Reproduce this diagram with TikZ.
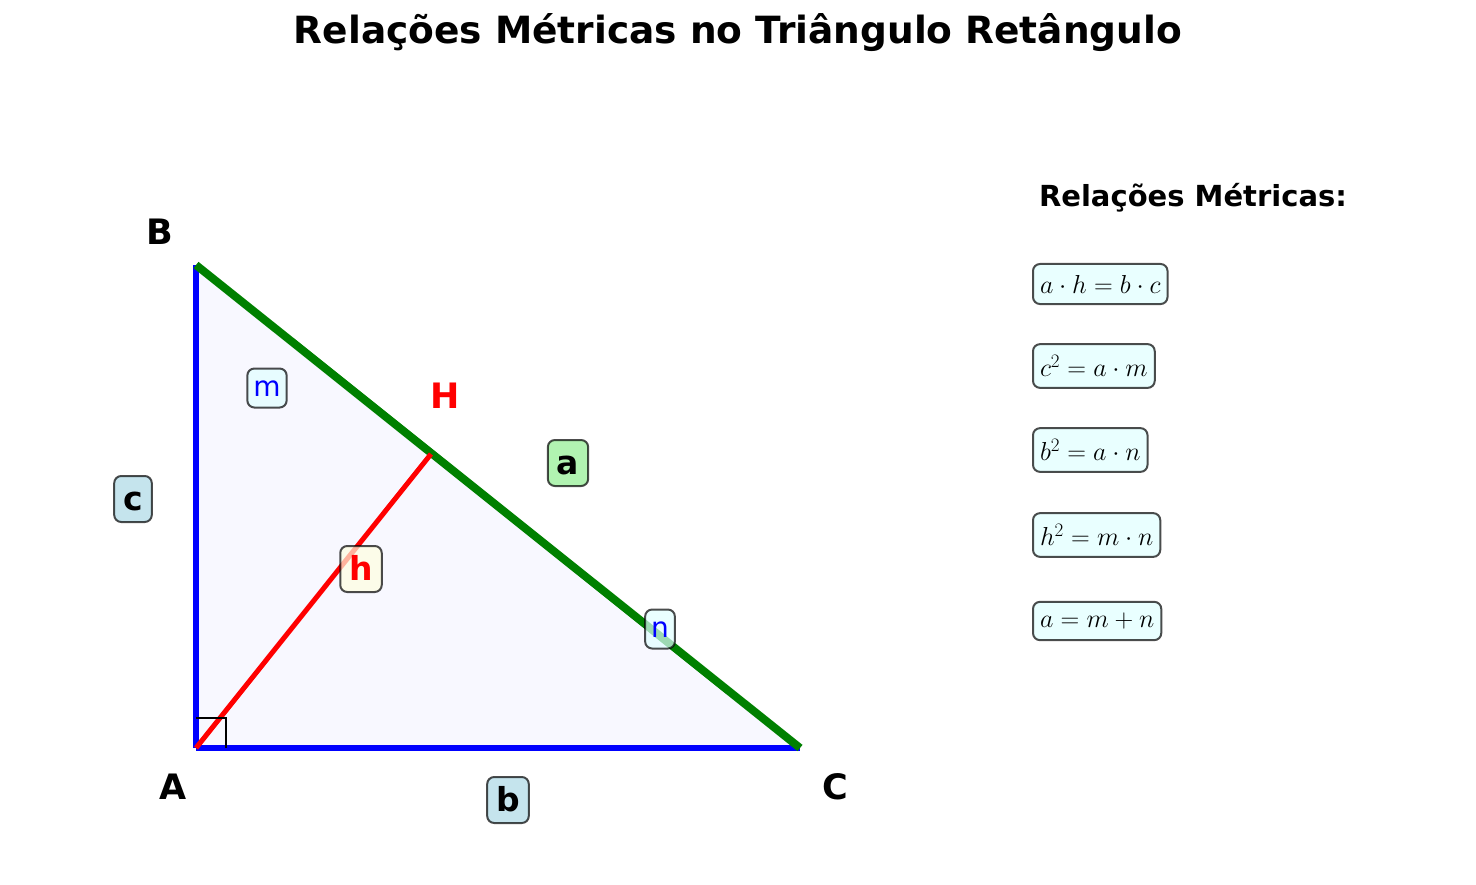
\documentclass[tikz,border=0pt]{standalone}
\usepackage{fix-cm}
\usepackage[no-math]{fontspec}
\setmainfont{DejaVu Sans}
\DeclareMathSizes{26}{26}{19}{14}
\definecolor{lblue}{HTML}{ADD8E6}
\definecolor{lgreen}{HTML}{90EE90}
\definecolor{lyellow}{HTML}{FFFFE0}
\definecolor{lcyan}{HTML}{E0FFFF}
\definecolor{mgreen}{HTML}{008000}
\definecolor{ghost}{HTML}{F8F8FF}
\tikzset{
  lbox/.style={rounded corners=7pt, draw=black, draw opacity=0.7, fill opacity=0.7, text opacity=1, line width=2pt, inner sep=9pt},
  boldlab/.style={lbox, font=\fontsize{33}{38}\selectfont\bfseries, text height=25pt, text depth=3pt},
  thinlab/.style={lbox, font=\fontsize{28}{32}\selectfont, text=blue, fill=lcyan, inner sep=6pt, text height=22pt, text depth=5pt},
  vlab/.style={font=\fontsize{35}{40}\selectfont\bfseries},
  fbox/.style={lbox, fill=lcyan, anchor=west, font=\fontsize{26}{30}\selectfont, inner xsep=7pt, inner ysep=11pt},
}
\begin{document}
\begin{tikzpicture}[x=1pt,y=-1pt]
\useasboundingbox (0,0) rectangle (1476,884);
\node[font=\fontsize{37.5}{44}\selectfont\bfseries] (title) at (738,33) {Relações Métricas no Triângulo Retângulo};
\coordinate (A) at (196,748);
\coordinate (B) at (196,265);
\coordinate (C) at (800,748);
\coordinate (H) at (431,454);
\fill[ghost] (A) -- (B) -- (C) -- cycle;
\draw[blue, line width=6.5pt] (A) -- (B);
\draw[blue, line width=6.5pt] (A) -- (C);
\draw[mgreen, line width=8pt] (B) -- (C);
\draw[red, line width=5pt] (A) -- (H);
\draw[black, line width=2pt] (196,718) -- (226,718) -- (226,748);
\node[vlab] (lB) at (160,232) {B};
\node[vlab] (lA) at (173,787) {A};
\node[vlab] (lC) at (835,787) {C};
\node[vlab, text=red] (lH) at (445,396) {H};
\node[boldlab, fill=lblue] (lc) at (133,499) {c};
\node[boldlab, fill=lblue] (lb) at (508,800) {b};
\node[boldlab, fill=lgreen] (la) at (568,463) {a};
\node[boldlab, fill=lyellow, text=red] (lh) at (361,569) {h};
\node[thinlab] (lm) at (267,388) {m};
\node[thinlab] (ln) at (660,629) {n};
\node[font=\fontsize{29}{34}\selectfont\bfseries] (head) at (1193,198) {Relações Métricas:};
\node[fbox] (f1) at (1032,284) {$a\cdot h=b\cdot c$};
\node[fbox] (f2) at (1032,366) {$c^2=a\cdot m$};
\node[fbox] (f3) at (1032,450) {$b^2=a\cdot n$};
\node[fbox] (f4) at (1032,535) {$h^2=m\cdot n$};
\node[fbox] (f5) at (1032,621) {$a=m+n$};
\end{tikzpicture}
\end{document}
